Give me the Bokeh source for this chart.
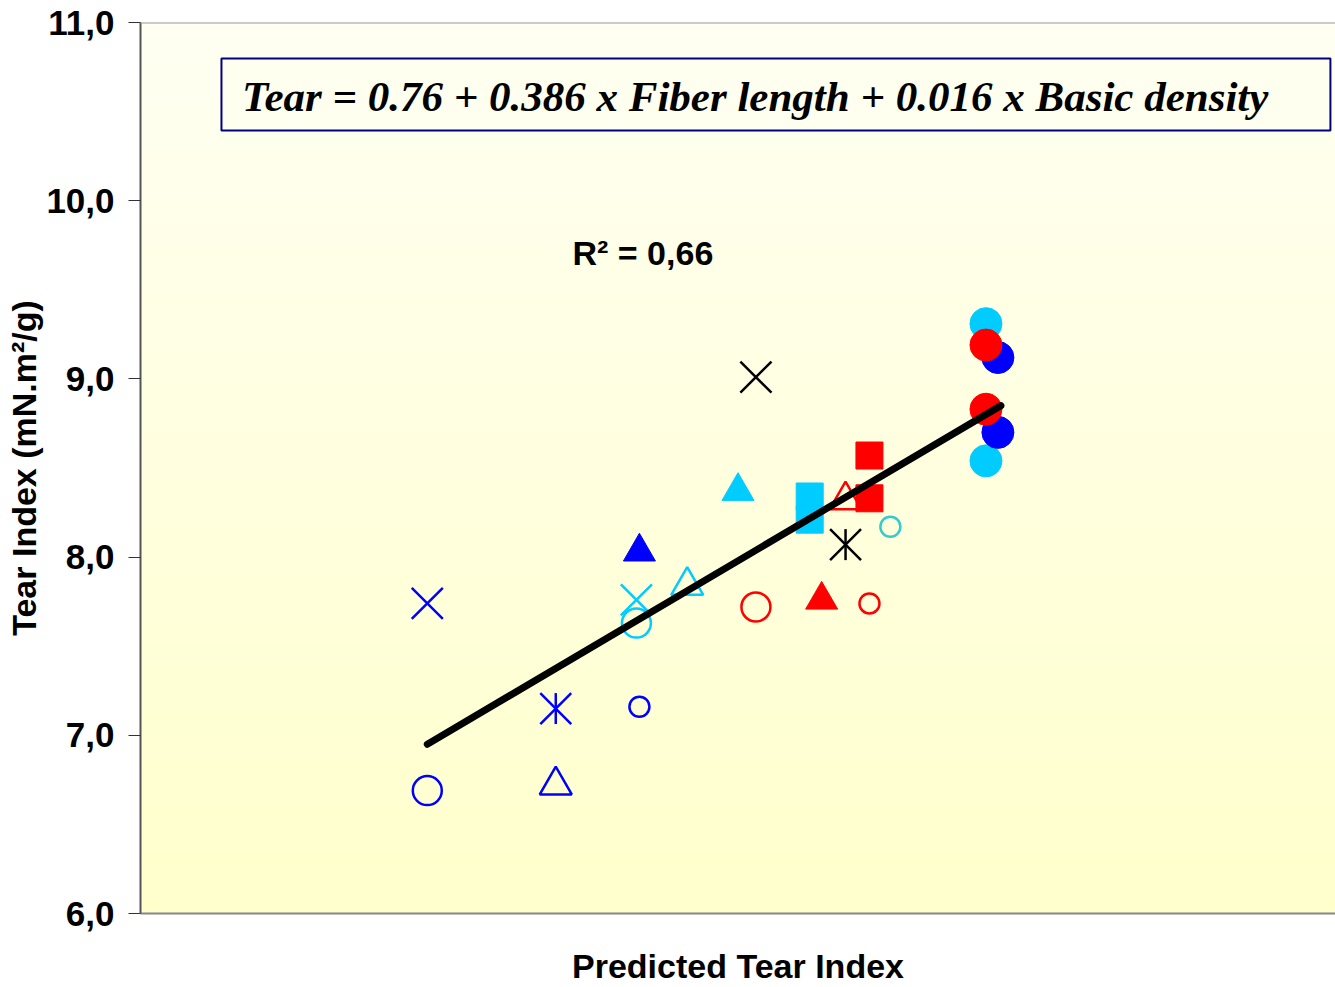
import numpy as np
from bokeh.plotting import figure
from bokeh.models import Range1d, FixedTicker, Label, BoxAnnotation, Span
from bokeh.embed import file_html
from bokeh.resources import INLINE

# ---------------- data ----------------
y_ticks = [6.0, 7.0, 8.0, 9.0, 10.0, 11.0]
y_tick_labels = ["6,0", "7,0", "8,0", "9,0", "10,0", "11,0"]

# blue series
blue_x_x = [6.96];            blue_x_y = [7.74]
blue_oc_x = [6.96];           blue_oc_y = [6.69]
blue_ast_x = [7.39];          blue_ast_y = [7.15]
blue_ot_x = [7.39];           blue_ot_y = [6.72]
blue_soc_x = [7.67];          blue_soc_y = [7.16]
blue_ft_x = [7.67];           blue_ft_y = [8.03]
blue_fc_x = [8.87, 8.87];     blue_fc_y = [9.12, 8.70]

# cyan series
cyan_x_x = [7.66];            cyan_x_y = [7.76]
cyan_oc_x = [7.66];           cyan_oc_y = [7.63]
cyan_ot_x = [7.83];           cyan_ot_y = [7.84]
cyan_ft_x = [8.00];           cyan_ft_y = [8.37]
cyan_sq_x = [8.24, 8.24];     cyan_sq_y = [8.34, 8.21]
cyan_fc_x = [8.83, 8.83];     cyan_fc_y = [9.31, 8.54]
teal_soc_x = [8.51];          teal_soc_y = [8.17]

# red series
red_oc_x = [8.06];            red_oc_y = [7.72]
red_ft_x = [8.28];            red_ft_y = [7.76]
red_ot_x = [8.36];            red_ot_y = [8.32]
red_sq_x = [8.44, 8.44];      red_sq_y = [8.57, 8.33]
red_soc_x = [8.44];           red_soc_y = [7.74]
red_fc_x = [8.83, 8.83];      red_fc_y = [9.19, 8.83]

# black series
black_x_x = [8.06];           black_x_y = [9.01]
black_ast_x = [8.36];         black_ast_y = [8.07]

# trend line
trend_x = [6.96, 8.88]
trend_y = [6.95, 8.85]

equation = "Tear = 0.76 + 0.386 x Fiber length + 0.016 x Basic density"
r2_text = "R\u00b2 = 0,66"
x_title = "Predicted Tear Index"
y_title = "Tear Index (mN.m\u00b2/g)"

# ---------------- figure ----------------
BLUE = "#0000FF"
CYAN = "#00CCFF"
RED = "#FF0000"
TEAL = "#33CCCC"
BLACK = "#000000"

p = figure(width=1335, height=987, output_backend="svg", toolbar_location=None,
           x_range=Range1d(6, 10), y_range=Range1d(6, 11),
           min_border_left=140, min_border_right=0, min_border_top=22, min_border_bottom=74)
p.background_fill_color = "#FFFFE6"
p.border_fill_color = "white"
p.outline_line_color = None
p.grid.visible = False

# gradient background (style only)
n = 256
t = np.linspace(0, 1, n)  # bottom -> top
img = np.empty((n, 2), dtype=np.uint32)
view = img.view(dtype=np.uint8).reshape((n, 2, 4))
for i in range(n):
    b = int(round(204 + (242 - 204) * t[i]))
    view[i, :, 0] = 255
    view[i, :, 1] = 255
    view[i, :, 2] = b
    view[i, :, 3] = 255
p.image_rgba(image=[img], x=6, y=6, dw=4, dh=5, level="image")

# axes
p.yaxis.ticker = FixedTicker(ticks=y_ticks)
p.yaxis.major_label_overrides = {v: s for v, s in zip(y_ticks, y_tick_labels)}
p.yaxis.major_label_text_font = "Liberation Sans"
p.yaxis.major_label_text_font_style = "bold"
p.yaxis.major_label_text_font_size = "35px"
p.yaxis.major_label_text_color = "black"
p.yaxis.major_label_standoff = 14
p.yaxis.major_tick_out = 12
p.yaxis.major_tick_in = 0
p.yaxis.minor_tick_line_color = None
p.yaxis.major_tick_line_color = "#333333"
p.yaxis.axis_line_color = "#555555"
p.yaxis.axis_line_width = 2
p.yaxis.axis_label = y_title
p.yaxis.axis_label_text_font = "Liberation Sans"
p.yaxis.axis_label_text_font_style = "bold"
p.yaxis.axis_label_text_font_size = "34px"
p.yaxis.axis_label_text_color = "black"
p.yaxis.axis_label_standoff = 0

p.xaxis.ticker = FixedTicker(ticks=[])
p.xaxis.major_tick_line_color = None
p.xaxis.minor_tick_line_color = None
p.xaxis.major_label_text_font_size = "1px"
p.xaxis.major_label_standoff = 0
p.xaxis.major_tick_out = 0
p.xaxis.axis_line_color = "#888888"
p.xaxis.axis_line_width = 2
p.xaxis.axis_label = x_title
p.xaxis.axis_label_text_font = "Liberation Sans"
p.xaxis.axis_label_text_font_style = "bold"
p.xaxis.axis_label_text_font_size = "34px"
p.xaxis.axis_label_text_color = "black"
p.xaxis.axis_label_standoff = 33

p.add_layout(Span(location=11, dimension="width", line_color="#999999", line_width=2))

# equation box
p.add_layout(BoxAnnotation(left=6.271, right=9.983, bottom=10.394, top=10.798,
                           fill_color="#FFFFF0", fill_alpha=1.0,
                           line_color="#000080", line_alpha=1.0, line_width=2))
p.add_layout(Label(x=6.34, y=10.585, text=equation, text_font="Liberation Serif",
                   text_font_style="bold italic", text_font_size="43px",
                   text_color="black", text_baseline="alphabetic", text_align="left"))
p.add_layout(Label(x=7.446, y=9.704, text=r2_text, text_font="Liberation Sans",
                   text_font_style="bold", text_font_size="34px",
                   text_color="black", text_baseline="alphabetic", text_align="left"))

# markers
LW = 2.5

def open_marker(xs, ys, marker, color, size):
    p.scatter(xs, ys, marker=marker, size=size, fill_color=None, line_color=color, line_width=LW)

def filled_marker(xs, ys, marker, color, size):
    p.scatter(xs, ys, marker=marker, size=size, fill_color=color, line_color=color, line_width=1)

def asterisk(xs, ys, color, size):
    p.scatter(xs, ys, marker="x", size=size * 1.41, line_color=color, line_width=LW)
    p.scatter(xs, ys, marker="dash", size=size, angle=np.pi / 2, line_color=color, line_width=LW)

XS = 44  # x marker size (diagonal spans ~31 px)

# blue
open_marker(blue_x_x, blue_x_y, "x", BLUE, XS)
open_marker(blue_oc_x, blue_oc_y, "circle", BLUE, 29)
asterisk(blue_ast_x, blue_ast_y, BLUE, 31)
open_marker(blue_ot_x, blue_ot_y, "triangle", BLUE, 32)
open_marker(blue_soc_x, blue_soc_y, "circle", BLUE, 20)
filled_marker(blue_ft_x, blue_ft_y, "triangle", BLUE, 32)

# cyan
open_marker(cyan_x_x, cyan_x_y, "x", CYAN, XS)
open_marker(cyan_oc_x, cyan_oc_y, "circle", CYAN, 29)
open_marker(cyan_ot_x, cyan_ot_y, "triangle", CYAN, 32)
filled_marker(cyan_ft_x, cyan_ft_y, "triangle", CYAN, 32)
filled_marker(cyan_sq_x, cyan_sq_y, "square", CYAN, 27)
open_marker(teal_soc_x, teal_soc_y, "circle", TEAL, 20)

# red
open_marker(red_oc_x, red_oc_y, "circle", RED, 29)
filled_marker(red_ft_x, red_ft_y, "triangle", RED, 32)
open_marker(red_ot_x, red_ot_y, "triangle", RED, 32)
filled_marker(red_sq_x, red_sq_y, "square", RED, 27)
open_marker(red_soc_x, red_soc_y, "circle", RED, 20)

# black
open_marker(black_x_x, black_x_y, "x", BLACK, XS)
asterisk(black_ast_x, black_ast_y, BLACK, 31)

# filled circles (drawn in stacking order)
filled_marker(cyan_fc_x, cyan_fc_y, "circle", CYAN, 32)
filled_marker(blue_fc_x, blue_fc_y, "circle", BLUE, 32)
filled_marker(red_fc_x, red_fc_y, "circle", RED, 32)

# trend line
p.line(trend_x, trend_y, line_color="black", line_width=7, line_cap="round")

open("out.html", "w").write(file_html(p, INLINE))
